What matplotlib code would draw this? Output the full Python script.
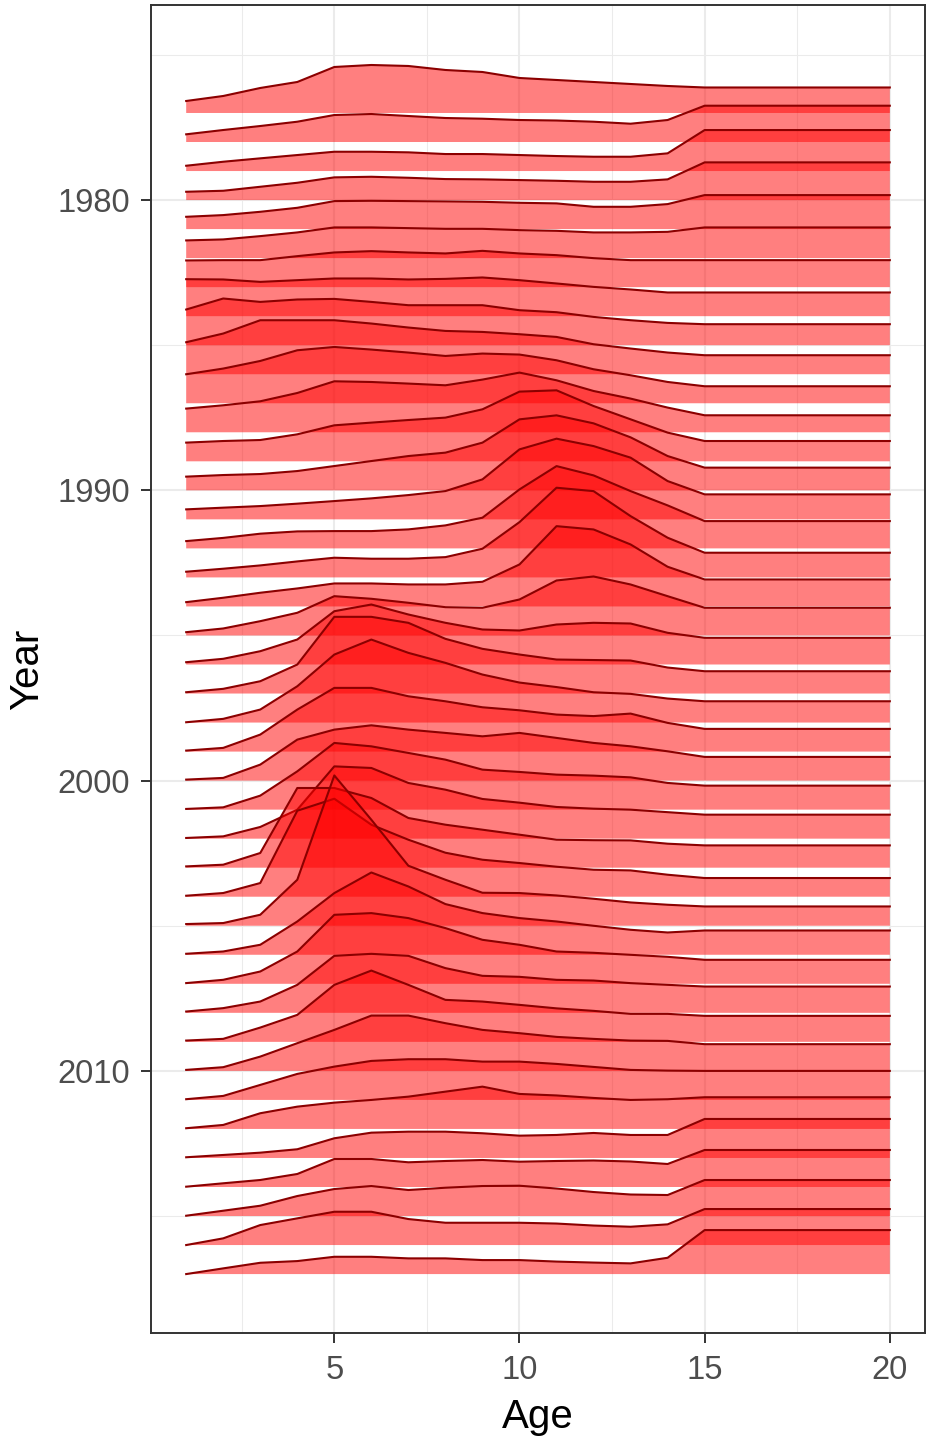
import matplotlib
matplotlib.use('Agg')
import matplotlib.pyplot as plt
from matplotlib.ticker import MultipleLocator

plt.rcParams['font.family'] = ['Liberation Sans', 'DejaVu Sans']

# ages 1..15 read point by point, then the plus group is flat out to age 20
ages = [1, 2, 3, 4, 5, 6, 7, 8, 9, 10, 11, 12, 13, 14, 15, 20]
years = list(range(1977, 2018))

# ridge heights per year (same unit)
heights = [
    [12, 17, 25, 31, 46, 48, 47, 43, 41, 35, 33, 31, 29, 27, 25.5, 25.5],
    [7.7, 12, 16, 20.3, 27, 28, 26, 24, 23.3, 22, 21.5, 20.3, 18.3, 22, 36.3, 36.3],
    [5.3, 9.3, 12.7, 16, 19.3, 19.3, 18.7, 17, 17, 16, 15, 14.3, 14.3, 17.7, 41, 41],
    [8.3, 9.3, 13.3, 17.3, 22.7, 23.3, 22.3, 21, 20.7, 20, 19.3, 18.3, 18.3, 20.7, 37.7, 37.7],
    [12.3, 14, 17.3, 21.3, 28, 28.3, 28, 27.7, 27.3, 26.3, 25.7, 22.3, 22.3, 25, 34, 34],
    [17.7, 18.7, 22, 25.7, 30.7, 30.7, 30, 29.3, 29.3, 28, 27.3, 25.7, 25.7, 26.3, 30.7, 30.7],
    [26.7, 27, 27, 31, 34.7, 36, 34.7, 33.7, 36.3, 33.7, 32, 29, 27, 27, 27, 27],
    [37, 36.7, 34.3, 36, 37.7, 37.7, 36.7, 37.3, 38.7, 36, 32.7, 29.3, 26.7, 23.7, 23.7, 23.7],
    [35.7, 46.7, 43.3, 45.7, 46.3, 43.3, 40, 40, 40, 35, 33, 28.3, 25, 22.3, 21, 21],
    [32, 40.7, 54, 54, 54, 50.7, 46.7, 43.3, 42.3, 40, 37.3, 30, 25.7, 21.7, 19, 19],
    [29, 34.7, 42.3, 53, 56.3, 53.7, 50.7, 47.3, 49.7, 48.7, 43, 34, 28, 21.3, 17, 17],
    [23.7, 27, 31, 39.3, 51, 50.3, 48.7, 47, 52.7, 59.7, 52, 41.3, 33.7, 24.7, 17, 17],
    [18.7, 20.3, 21.3, 27, 36, 38.7, 41.3, 43.7, 52, 69.7, 71, 55.3, 42, 28.7, 20.3, 20.3],
    [13.7, 15.3, 16.3, 19.3, 24.3, 29.3, 34.3, 37.7, 47.7, 71, 75, 67, 53, 34.3, 22.7, 22.7],
    [10, 11.7, 13.3, 15.7, 18.3, 21, 24.3, 28.3, 40, 70, 80.7, 73.3, 61.7, 38.3, 25, 25],
    [7.3, 10.5, 14.7, 17, 17.3, 17.3, 19, 23, 30.7, 59, 82.3, 73, 57.3, 43, 27.3, 27.3],
    [5.7, 8.7, 12, 16, 19.7, 18.7, 18.7, 20.3, 28.7, 55.3, 89.7, 86.3, 61.3, 39.7, 24.7, 24.7],
    [4.3, 8.7, 13.7, 18, 23, 23, 22, 22, 24.7, 42, 80.3, 77, 62, 39.7, 27, 27],
    [3.3, 7, 14.3, 22.7, 39.3, 36.7, 32.7, 28.3, 27.7, 36, 55, 59, 51, 39.3, 27.7, 27.7],
    [2.3, 5.7, 13.3, 25, 53.3, 60, 50, 41.7, 35, 34, 40, 41.7, 41, 31.7, 26.7, 26.7],
    [1.3, 4.7, 12.3, 29, 76.7, 76.7, 70.7, 54.7, 44.7, 39, 34, 33.5, 33, 26, 22.3, 22.3],
    [0.3, 3.7, 13, 36.3, 68, 83, 69.7, 59.7, 48, 40, 35.5, 30.3, 28.7, 24, 21.3, 21.3],
    [1, 3.7, 17, 42, 63.7, 63.7, 55.3, 50.3, 44.3, 41.3, 37, 35.5, 38, 28.7, 22.7, 22.7],
    [1, 2.7, 16, 41, 51, 55.3, 51, 47.7, 44.3, 47.7, 42.7, 37.7, 34.3, 29.3, 23.7, 23.7],
    [0.7, 2.3, 14, 38.3, 66.7, 63.3, 56.7, 50, 40, 37.7, 35, 34, 32.3, 26.7, 24, 24],
    [0.7, 2.3, 11.7, 29, 72.3, 70.7, 55.7, 49, 39.7, 36, 31.7, 30, 29, 26.5, 24, 24],
    [1.3, 3, 14.7, 79.7, 79.7, 69.7, 49.7, 43, 38, 33, 28, 27.5, 27.3, 24, 22.3, 22.3],
    [1, 3.7, 13.7, 86, 98, 72, 57, 44, 37, 33.7, 30, 27, 26.3, 22, 18.7, 18.7],
    [1.7, 2.7, 11, 46, 150.3, 106, 60, 46, 33, 32.7, 30.3, 27, 23.3, 21, 19.3, 19.3],
    [1, 3.3, 10, 33.3, 61.7, 82.3, 68.3, 50.7, 41.7, 36.7, 33.3, 29, 25, 22.3, 24.3, 24.3],
    [0.7, 4, 12.3, 32.3, 69, 70.7, 65.7, 55.7, 44, 39, 32.3, 31, 29, 27, 24, 24],
    [1.3, 4.7, 11.3, 28, 57, 59, 57, 44.7, 37, 36, 33, 32.3, 29.7, 28, 26.3, 26.3],
    [1.3, 3, 14.3, 27, 57, 71.3, 57, 42, 40.3, 37, 33.5, 31, 28, 28, 26, 26],
    [1, 3.7, 14.3, 27.7, 41, 55.3, 55.3, 47.7, 41, 37.7, 34, 32, 30.3, 30, 26.7, 26.7],
    [0.7, 4, 15, 26, 33.3, 39, 40.7, 40.7, 38.3, 38.3, 36, 33, 30, 29.3, 29, 29],
    [0.7, 4, 15.7, 22.3, 26.3, 29, 32.3, 37.3, 42.3, 35, 33.5, 31, 29, 29.7, 31.7, 31.7],
    [0.7, 3, 5.3, 8.7, 19.7, 25.3, 26.3, 26.3, 24.7, 22.3, 23, 25, 23, 23, 39, 39],
    [0.3, 3.7, 7, 13, 28, 28, 24.7, 26, 27, 25.3, 26, 26.5, 25.5, 23, 37, 37],
    [0.3, 5.3, 10.3, 20, 27, 30, 26, 28.3, 30, 30.3, 27.5, 24, 21.5, 21, 36, 36],
    [0, 6.7, 20, 26.7, 33.3, 33.3, 26, 22.3, 22.3, 22.3, 21.5, 19.5, 18.3, 20.7, 36, 36],
    [0, 5.7, 11.3, 13, 17.3, 17.3, 15.7, 15.7, 14, 14, 12.5, 11.5, 10.7, 16.3, 44, 44],
]

x_ticks = [5, 10, 15, 20]
y_ticks = [1980, 1990, 2000, 2010]

ridge_scale = 1 / 29.03   # height unit -> years on the y axis
fill_col = (1, 0, 0, 0.5)
line_col = '#8B0000'

fig = plt.figure(figsize=(9.3, 14.41), dpi=100)
ax = fig.add_axes([151 / 930, 1 - 1333 / 1441, 774 / 930, 1328 / 1441])

# top ridge first, lower ridges drawn over it (like ggridges)
z = 3
for yr, h in zip(years, heights):
    top = [yr - v * ridge_scale for v in h]
    ax.fill_between(ages, yr, top, facecolor=fill_col, edgecolor='none', zorder=z)
    ax.plot(ages, top, color=line_col, lw=1.5, zorder=z + 0.5)
    z += 1

ax.set_xlim(0.05, 20.95)
ax.set_ylim(2019.03, 1973.28)

ax.set_xticks(x_ticks)
ax.set_yticks(y_ticks)
ax.xaxis.set_minor_locator(MultipleLocator(2.5))
ax.yaxis.set_minor_locator(MultipleLocator(5))
ax.grid(which='major', color='#EBEBEB', lw=1.5, zorder=0)
ax.grid(which='minor', color='#EBEBEB', lw=0.75, zorder=0)
ax.set_axisbelow(True)

for s in ax.spines.values():
    s.set_color('#333333')
    s.set_linewidth(1.4)
ax.tick_params(which='major', length=7.5, width=1.4, color='#333333',
               labelcolor='#4D4D4D', labelsize=23.6)
ax.tick_params(axis='x', which='major', pad=8.3)
ax.tick_params(axis='y', which='major', pad=7.5)
ax.tick_params(which='minor', length=0)

ax.set_xlabel('Age', fontsize=29, labelpad=8.5)
ax.set_ylabel('Year', fontsize=29, labelpad=8)

fig.savefig('out.png', dpi=100)
